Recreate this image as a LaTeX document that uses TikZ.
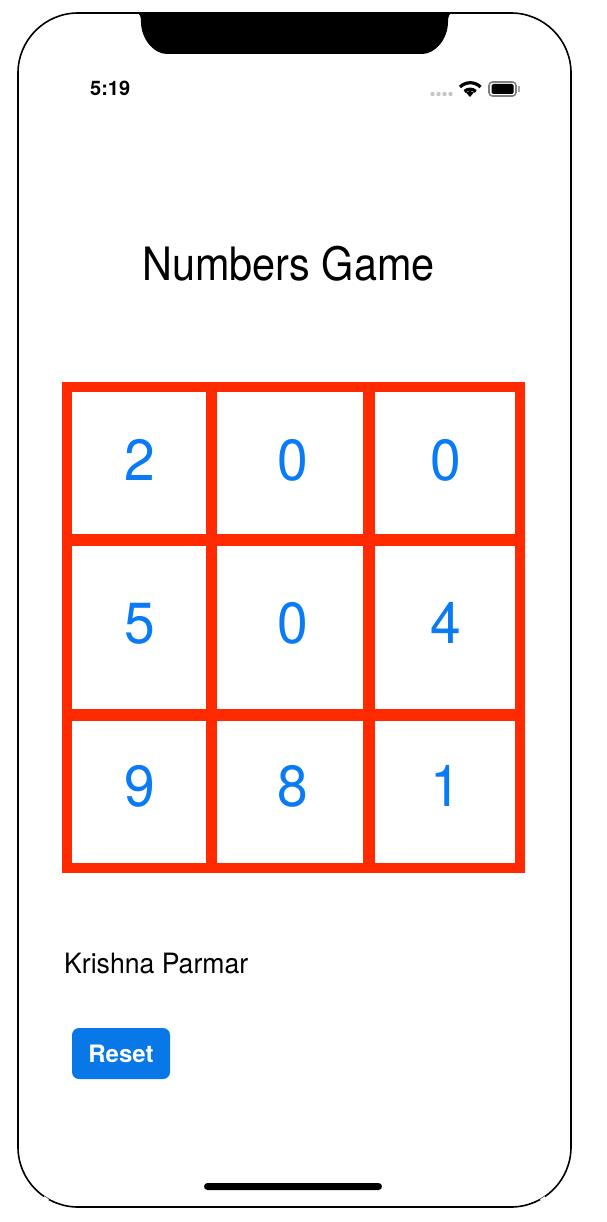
\documentclass[tikz,border=0pt]{standalone}
\usepackage{fontspec}
\usepackage{xcolor}
\setmainfont{TeX Gyre Heros}
\usetikzlibrary{positioning,calc}
\definecolor{gridred}{RGB}{255,42,0}
\definecolor{digitblue}{RGB}{10,122,245}
\definecolor{buttonblue}{RGB}{8,120,232}
\newcommand{\numtext}[1]{\scalebox{0.95}[1]{#1}}
\tikzset{
    digit/.style={anchor=base, text=digitblue, inner sep=0pt, font=\fontsize{58}{58}\selectfont},
    cellbox/.style={fill=white, draw=none},
    framebox/.style={draw=black, line width=1.6pt, rounded corners=60pt}
}

\begin{document}
\begin{tikzpicture}[x=1pt,y=-1pt]
    \useasboundingbox (0,0) rectangle (606,1222);
    \draw[framebox] (18,13) rectangle (571,1207);
    \draw[white, line width=3pt] (43.5,1197.5) -- (48,1200.5);
    \draw[white, line width=3pt] (545.5,1197.5) -- (541,1200.5);

    \fill[black] (136,12.5) .. controls (140,13) and (141,17) .. (141,22)
        .. controls (141,38) and (153,54) .. (167,54) -- (422,54)
        .. controls (436,54) and (448,38) .. (448,22)
        .. controls (448,17) and (449,13) .. (453,12.5) -- cycle;

    \node[anchor=base west, inner sep=0pt, font=\bfseries\fontsize{20}{20}\selectfont] (clock) at (90,96) {5:19};
    \fill[gray!45] (432.5,94) circle (2.2pt) (438.5,94) circle (2.2pt) (444.5,94) circle (2.2pt) (450.5,94) circle (2.2pt);
    \draw[line width=3.2pt] (460,87) arc (135:45:14.5pt);
    \draw[line width=3.2pt] (464.5,91.5) arc (135:45:8pt);
    \fill (470,97) -- (466,92.5) arc (135:45:5.5pt) -- cycle;
    \draw[gray, line width=1.6pt, rounded corners=3.5pt] (489,82) rectangle (516,96);
    \fill[black, rounded corners=1.5pt] (491.5,84) rectangle (513.5,94);
    \fill[gray!70] (518,86) rectangle (520,92);

    \node[anchor=base, inner sep=0pt] (title) at (288.5,280) {\fontsize{46}{46}\selectfont\scalebox{0.9}[1]{Numbers Game}};

    \fill[gridred] (62,382) rectangle (525,873);
    \fill[cellbox] (72,392) rectangle (206,534);
    \fill[cellbox] (217,392) rectangle (363,534);
    \fill[cellbox] (375,392) rectangle (515,534);
    \fill[cellbox] (72,546) rectangle (206,709);
    \fill[cellbox] (217,546) rectangle (363,709);
    \fill[cellbox] (375,546) rectangle (515,709);
    \fill[cellbox] (72,721) rectangle (206,863);
    \fill[cellbox] (217,721) rectangle (363,863);
    \fill[cellbox] (375,721) rectangle (515,863);

    \node[digit] (a1) at (139.5,480.5) {\numtext{2}};
    \node[digit] (a2) at (292.5,480.5) {\numtext{0}};
    \node[digit] (a3) at (445.5,480.5) {\numtext{0}};
    \node[digit] (b1) at (139.5,643) {\numtext{5}};
    \node[digit] (b2) at (292.5,643) {\numtext{0}};
    \node[digit] (b3) at (445.5,643) {\numtext{4}};
    \node[digit] (c1) at (139.5,806) {\numtext{9}};
    \node[digit] (c2) at (292.5,806) {\numtext{8}};
    \node[digit] (c3) at (445.5,806) {\numtext{1}};

    \node[anchor=base west, inner sep=0pt] (name) at (64,973) {\fontsize{28}{28}\selectfont\scalebox{0.95}[1]{Krishna Parmar}};

    \fill[buttonblue, rounded corners=7pt] (72,1028) rectangle (170,1079);
    \node[text=white, anchor=base, inner sep=0pt, font=\bfseries\fontsize{24}{24}\selectfont] (reset) at (121,1062) {Reset};

    \fill[black, rounded corners=3.5pt] (204,1183) rectangle (382,1190);
\end{tikzpicture}
\end{document}
